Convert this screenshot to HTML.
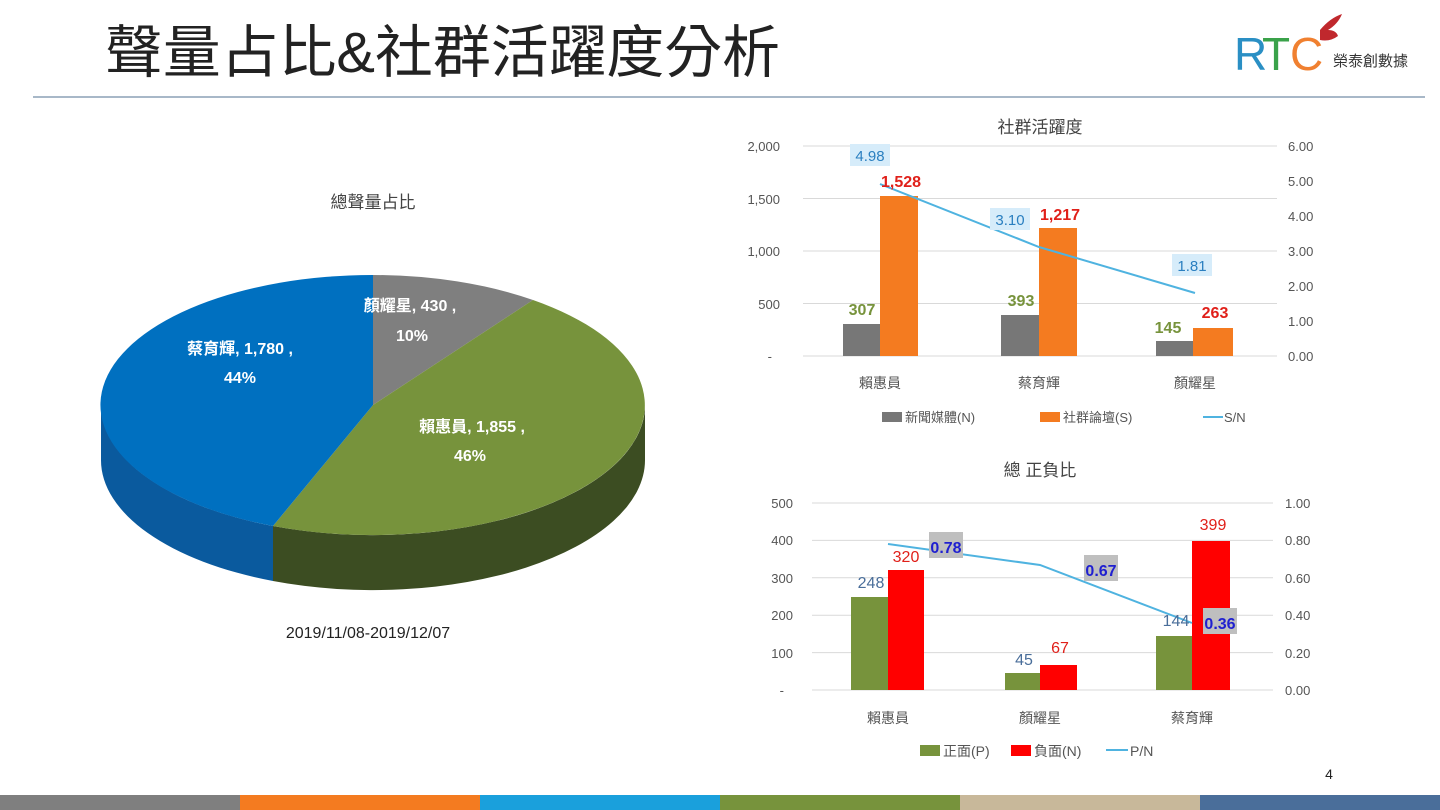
<!DOCTYPE html>
<html><head><meta charset="utf-8"><style>
body{margin:0;width:1440px;height:810px;background:#fff;overflow:hidden;font-family:"Liberation Sans","Noto Sans CJK TC",sans-serif;}
svg{position:absolute;left:0;top:0}
</style></head><body>
<svg width="1440" height="810" viewBox="0 0 1440 810" font-family="Liberation Sans, Noto Sans CJK TC, sans-serif">
<!-- header -->
<text x="105" y="72" font-size="57" fill="#222" textLength="675" lengthAdjust="spacingAndGlyphs">聲量占比&amp;社群活躍度分析</text>
<text x="1234" y="70" font-size="46" fill="#2a8fc4" font-family="Liberation Sans, sans-serif">R</text>
<text x="1262" y="70" font-size="46" fill="#3aa24a">T</text>
<text x="1290" y="70" font-size="46" fill="#f08030">C</text>
<path d="M1320 30 q10 -12 22 -16 q-4 10 -14 16 q8 0 10 6 q-8 6 -18 4z" fill="#c0282d"/>
<text x="1333" y="66" font-size="15" fill="#333">榮泰創數據</text>
<line x1="33" y1="97" x2="1425" y2="97" stroke="#a8b8c8" stroke-width="2"/>

<!-- pie -->
<text x="373" y="208" font-size="17" fill="#444" text-anchor="middle">總聲量占比</text>
<g>
<path d="M645 405 A272 130 0 0 1 273 526 L273 581 A272 130 0 0 0 645 460Z" fill="#3c4d22"/>
<path d="M273 526 A272 130 0 0 1 101 405 L101 460 A272 130 0 0 0 273 581Z" fill="#0a5a9e"/>
<path d="M373 405 L373 275 A272 130 0 0 1 533 300Z" fill="#7f7f7f"/>
<path d="M373 405 L533 300 A272 130 0 0 1 273 526Z" fill="#77933c"/>
<path d="M373 405 L273 526 A272 130 0 0 1 373 275Z" fill="#0070c0"/>
</g>
<g font-size="16" font-weight="bold" fill="#fff" text-anchor="middle">
<text x="410" y="311">顏耀星, 430 ,</text><text x="412" y="341">10%</text>
<text x="240" y="354">蔡育輝, 1,780 ,</text><text x="240" y="383">44%</text>
<text x="472" y="432">賴惠員, 1,855 ,</text><text x="470" y="461">46%</text>
</g>
<text x="368" y="638" font-size="16" fill="#222" text-anchor="middle">2019/11/08-2019/12/07</text>

<!-- chart 1 -->
<text x="1040" y="133" font-size="17" fill="#444" text-anchor="middle">社群活躍度</text>
<g stroke="#d9d9d9" stroke-width="1">
<line x1="803" y1="146" x2="1277" y2="146"/><line x1="803" y1="198.5" x2="1277" y2="198.5"/>
<line x1="803" y1="251" x2="1277" y2="251"/><line x1="803" y1="303.5" x2="1277" y2="303.5"/>
<line x1="803" y1="356" x2="1277" y2="356"/>
</g>
<g font-size="13" fill="#555" text-anchor="end">
<text x="780" y="151">2,000</text><text x="780" y="204">1,500</text><text x="780" y="256">1,000</text><text x="780" y="309">500</text><text x="772" y="361">-</text>
</g>
<g font-size="13" fill="#555">
<text x="1288" y="151">6.00</text><text x="1288" y="186">5.00</text><text x="1288" y="221">4.00</text><text x="1288" y="256">3.00</text><text x="1288" y="291">2.00</text><text x="1288" y="326">1.00</text><text x="1288" y="361">0.00</text>
</g>
<rect x="843" y="324" width="37" height="32" fill="#777"/>
<rect x="880" y="196" width="38" height="160" fill="#f47b20"/>
<rect x="1001" y="315" width="38" height="41" fill="#777"/>
<rect x="1039" y="228" width="38" height="128" fill="#f47b20"/>
<rect x="1156" y="341" width="37" height="15" fill="#777"/>
<rect x="1193" y="328" width="40" height="28" fill="#f47b20"/>
<polyline points="880,184 1039,247 1195,293" fill="none" stroke="#4fb3e0" stroke-width="2"/>
<rect x="850" y="144" width="40" height="22" fill="#d6ecfa"/><text x="870" y="161" font-size="15" fill="#2a7fc0" text-anchor="middle">4.98</text>
<rect x="990" y="208" width="40" height="22" fill="#d6ecfa"/><text x="1010" y="225" font-size="15" fill="#2a7fc0" text-anchor="middle">3.10</text>
<rect x="1172" y="254" width="40" height="22" fill="#d6ecfa"/><text x="1192" y="271" font-size="15" fill="#2a7fc0" text-anchor="middle">1.81</text>
<g font-size="16" font-weight="bold" text-anchor="middle">
<text x="901" y="187" fill="#e0201a">1,528</text><text x="1060" y="220" fill="#e0201a">1,217</text><text x="1215" y="318" fill="#e0201a">263</text>
<text x="862" y="315" fill="#77933c">307</text><text x="1021" y="306" fill="#77933c">393</text><text x="1168" y="333" fill="#77933c">145</text>
</g>
<g font-size="14" fill="#555" text-anchor="middle">
<text x="880" y="388">賴惠員</text><text x="1039" y="388">蔡育輝</text><text x="1195" y="388">顏耀星</text>
</g>
<rect x="882" y="412" width="20" height="10" fill="#777"/><text x="905" y="422" font-size="13" fill="#555">新聞媒體(N)</text>
<rect x="1040" y="412" width="20" height="10" fill="#f47b20"/><text x="1063" y="422" font-size="13" fill="#555">社群論壇(S)</text>
<line x1="1203" y1="417" x2="1223" y2="417" stroke="#4fb3e0" stroke-width="2"/><text x="1224" y="422" font-size="13" fill="#555">S/N</text>

<!-- chart 2 -->
<text x="1040" y="476" font-size="17" fill="#444" text-anchor="middle">總 正負比</text>
<g stroke="#d9d9d9" stroke-width="1">
<line x1="812" y1="503" x2="1273" y2="503"/><line x1="812" y1="540.4" x2="1273" y2="540.4"/>
<line x1="812" y1="577.8" x2="1273" y2="577.8"/><line x1="812" y1="615.2" x2="1273" y2="615.2"/>
<line x1="812" y1="652.6" x2="1273" y2="652.6"/><line x1="812" y1="690" x2="1273" y2="690"/>
</g>
<g font-size="13" fill="#555" text-anchor="end">
<text x="793" y="508">500</text><text x="793" y="545">400</text><text x="793" y="583">300</text><text x="793" y="620">200</text><text x="793" y="658">100</text><text x="784" y="695">-</text>
</g>
<g font-size="13" fill="#555">
<text x="1285" y="508">1.00</text><text x="1285" y="545">0.80</text><text x="1285" y="583">0.60</text><text x="1285" y="620">0.40</text><text x="1285" y="658">0.20</text><text x="1285" y="695">0.00</text>
</g>
<rect x="851" y="597" width="37" height="93" fill="#77933c"/>
<rect x="888" y="570" width="36" height="120" fill="#ff0000"/>
<rect x="1005" y="673" width="35" height="17" fill="#77933c"/>
<rect x="1040" y="665" width="37" height="25" fill="#ff0000"/>
<rect x="1156" y="636" width="36" height="54" fill="#77933c"/>
<rect x="1192" y="541" width="38" height="149" fill="#ff0000"/>
<polyline points="888,544 1040,565 1192,623" fill="none" stroke="#4fb3e0" stroke-width="2"/>
<rect x="929" y="532" width="34" height="26" fill="#bfbfbf"/><text x="946" y="553" font-size="16" font-weight="bold" fill="#1f1fd0" text-anchor="middle">0.78</text>
<rect x="1084" y="555" width="34" height="26" fill="#bfbfbf"/><text x="1101" y="576" font-size="16" font-weight="bold" fill="#1f1fd0" text-anchor="middle">0.67</text>
<rect x="1203" y="608" width="34" height="26" fill="#bfbfbf"/><text x="1220" y="629" font-size="16" font-weight="bold" fill="#1f1fd0" text-anchor="middle">0.36</text>
<g font-size="16" text-anchor="middle">
<text x="906" y="562" fill="#e0201a">320</text><text x="1060" y="653" fill="#e0201a">67</text><text x="1213" y="530" fill="#e0201a">399</text>
<text x="871" y="588" fill="#4a6e9a">248</text><text x="1024" y="665" fill="#4a6e9a">45</text><text x="1176" y="626" fill="#4a6e9a">144</text>
</g>
<g font-size="14" fill="#555" text-anchor="middle">
<text x="888" y="723">賴惠員</text><text x="1040" y="723">顏耀星</text><text x="1192" y="723">蔡育輝</text>
</g>
<rect x="920" y="745" width="20" height="11" fill="#77933c"/><text x="943" y="756" font-size="14" fill="#555">正面(P)</text>
<rect x="1011" y="745" width="20" height="11" fill="#ff0000"/><text x="1034" y="756" font-size="14" fill="#555">負面(N)</text>
<line x1="1106" y1="750" x2="1128" y2="750" stroke="#4fb3e0" stroke-width="2"/><text x="1130" y="756" font-size="14" fill="#555">P/N</text>
<text x="1329" y="779" font-size="14" fill="#222" text-anchor="middle">4</text>

<!-- bottom bar -->
<rect x="0" y="795" width="240" height="15" fill="#7f7f7f"/>
<rect x="240" y="795" width="240" height="15" fill="#f47b20"/>
<rect x="480" y="795" width="240" height="15" fill="#1aa0dc"/>
<rect x="720" y="795" width="240" height="15" fill="#77933c"/>
<rect x="960" y="795" width="240" height="15" fill="#c8b89a"/>
<rect x="1200" y="795" width="240" height="15" fill="#4a6e9a"/>
</svg>
</body></html>
